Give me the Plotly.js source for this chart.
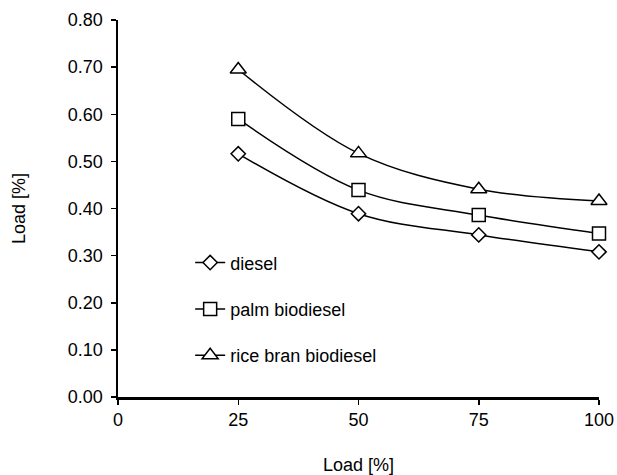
<!DOCTYPE html>
<html>
<head>
<meta charset="utf-8">
<script src="https://cdn.plot.ly/plotly-3.0.1.min.js"></script>
<style>html,body{margin:0;padding:0;background:#fff}#chart{width:617px;height:475px}</style>
</head>
<body>
<div id="chart"></div>
<script>
var loads = [25, 50, 75, 100];
var diesel = [0.516, 0.389, 0.344, 0.308];
var palmBiodiesel = [0.590, 0.439, 0.386, 0.347];
var riceBranBiodiesel = [0.695, 0.517, 0.441, 0.416];
var seriesNames = ['diesel', 'palm biodiesel', 'rice bran biodiesel'];
var xTicks = [0, 25, 50, 75, 100];
var yTicks = [0, 0.1, 0.2, 0.3, 0.4, 0.5, 0.6, 0.7, 0.8];

var FONT = 'Liberation Sans, Arial, sans-serif';
function mk(name, y, sym, size, g) {
  return {
    x: loads, y: y, name: name, type: 'scatter', mode: 'lines+markers',
    legendgroup: g, cliponaxis: false,
    line: {color: '#000', width: 1.5, shape: 'spline', smoothing: 1},
    marker: {symbol: sym, size: size, color: '#fff', line: {color: '#000', width: 1.5}}
  };
}
var data = [
  mk(seriesNames[0], diesel, 'diamond', 11, 'a'),
  mk(seriesNames[1], palmBiodiesel, 'square', 13, 'b'),
  mk(seriesNames[2], riceBranBiodiesel, 'triangle-up', 14, 'c')
];
var layout = {
  width: 617, height: 475,
  margin: {l: 118, r: 18, t: 19.5, b: 78},
  paper_bgcolor: '#fff', plot_bgcolor: '#fff',
  font: {family: FONT, size: 18, color: '#000'},
  showlegend: true,
  legend: {x: 0.15, y: 0.405, xanchor: 'left', yanchor: 'top', bgcolor: 'rgba(0,0,0,0)',
           font: {size: 18}, tracegroupgap: 20, traceorder: 'grouped'},
  xaxis: {range: [0, 100], tickvals: xTicks, ticktext: xTicks.map(String), showgrid: false, zeroline: false,
          showline: true, linecolor: '#000', linewidth: 2.5, ticks: 'outside', ticklen: 5, tickwidth: 1.5,
          tickcolor: '#000', fixedrange: true,
          title: {text: 'Load [%]', standoff: 30, font: {size: 18}}},
  yaxis: {range: [0, 0.8], tickvals: yTicks, ticktext: yTicks.map(function(v){return v.toFixed(2);}),
          showgrid: false, zeroline: false, ticklabelstandoff: 4,
          showline: true, linecolor: '#000', linewidth: 2.5, ticks: 'outside', ticklen: 5, tickwidth: 1.5,
          tickcolor: '#000', fixedrange: true,
          title: {text: 'Load [%]', standoff: 38, font: {size: 18}}}
};
Plotly.newPlot('chart', data, layout, {displayModeBar: false, staticPlot: true});
</script>
</body>
</html>
